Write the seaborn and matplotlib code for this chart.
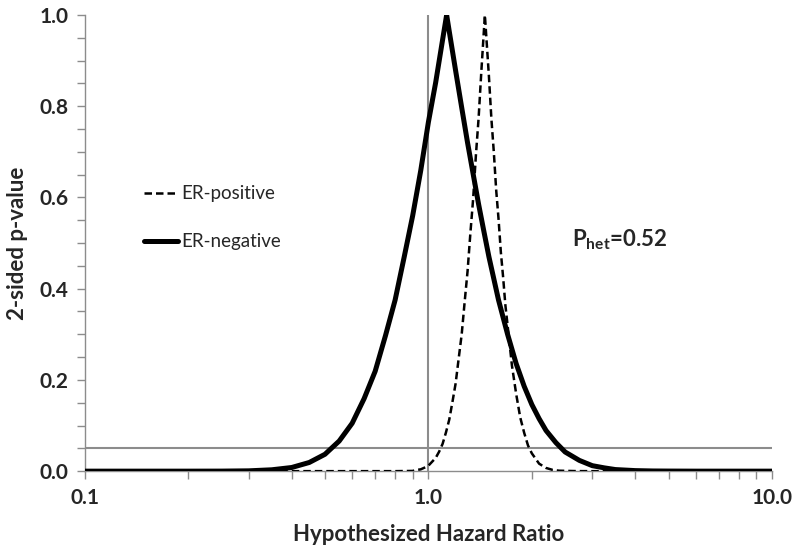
import numpy as np
import pandas as pd
import matplotlib
matplotlib.use("Agg")
import matplotlib.pyplot as plt
from matplotlib.ticker import MultipleLocator, FixedLocator, NullFormatter, FixedFormatter
import seaborn as sns

# Valores (HR hipotético vs p-valor bilateral)
hr_neg = [0.1, 0.2, 0.25, 0.3, 0.35, 0.4, 0.45, 0.5, 0.55, 0.6, 0.65, 0.7, 0.75, 0.8,
          0.85, 0.9, 0.95, 1.0, 1.05, 1.1, 1.13, 1.15, 1.2, 1.25, 1.3, 1.35, 1.4, 1.45,
          1.5, 1.6, 1.7, 1.8, 1.9, 2.0, 2.1, 2.2, 2.35, 2.5, 2.75, 3.0, 3.25, 3.5, 4.0,
          4.5, 5.0, 6.0, 8.0, 10.0]
p_neg = [0.0, 0.0, 0.0001, 0.0007, 0.003, 0.008, 0.019, 0.037, 0.066, 0.105, 0.159,
         0.219, 0.297, 0.375, 0.469, 0.56, 0.659, 0.765, 0.852, 0.946, 1.0, 0.964,
         0.878, 0.797, 0.72, 0.651, 0.585, 0.526, 0.47, 0.375, 0.30, 0.236, 0.186,
         0.146, 0.115, 0.089, 0.0625, 0.042, 0.0236, 0.012, 0.0072, 0.0035, 0.0012,
         0.0004, 0.0002, 0.0, 0.0, 0.0]

hr_pos = [0.1, 0.5, 0.8, 0.9, 0.92, 0.95, 0.98, 1.0, 1.05, 1.075, 1.1, 1.125, 1.15,
          1.175, 1.2, 1.225, 1.25, 1.275, 1.3, 1.325, 1.35, 1.375, 1.4, 1.425, 1.46,
          1.5, 1.525, 1.55, 1.575, 1.6, 1.625, 1.65, 1.675, 1.7, 1.75, 1.8, 1.85, 1.9,
          1.95, 2.0, 2.1, 2.2, 2.3, 2.4, 2.7, 3.0, 5.0, 10.0]
p_pos = [0.0, 0.0, 0.0, 0.0005, 0.0023, 0.004, 0.0085, 0.012, 0.029, 0.043, 0.060,
         0.085, 0.113, 0.152, 0.192, 0.247, 0.300, 0.371, 0.438, 0.522, 0.598, 0.693,
         0.774, 0.873, 1.0, 0.866, 0.773, 0.700, 0.616, 0.553, 0.480, 0.425, 0.364,
         0.320, 0.232, 0.170, 0.118, 0.084, 0.056, 0.039, 0.0164, 0.007, 0.0027,
         0.001, 0.0001, 0.0, 0.0, 0.0]

x_ticks = [0.1, 1.0, 10.0]
x_tick_labels = ["0.1", "1.0", "10.0"]
p_het = "0.52"

df = pd.concat([
    pd.DataFrame({"HR": hr_pos, "p": p_pos, "grupo": "ER-positive"}),
    pd.DataFrame({"HR": hr_neg, "p": p_neg, "grupo": "ER-negative"}),
])

sns.set_style("white")
plt.rcParams["font.family"] = ["Lato", "DejaVu Sans"]
plt.rcParams["mathtext.fontset"] = "custom"
plt.rcParams["mathtext.rm"] = "Lato"
plt.rcParams["mathtext.bf"] = "Lato:bold"

fig = plt.figure(figsize=(8, 5.53), dpi=100)
ax = fig.add_axes([0.106, 0.148, 0.859, 0.825])

grey = "#8c8c8c"
# líneas de referencia
ax.axhline(0.05, color=grey, lw=1.5, zorder=1)
ax.plot([1.0, 1.0], [0, 1.0], color=grey, lw=1.5, zorder=1)

sns.lineplot(data=df[df["grupo"] == "ER-positive"], x="HR", y="p", color="black",
             lw=1.8, ax=ax, label="ER-positive", zorder=3)
sns.lineplot(data=df[df["grupo"] == "ER-negative"], x="HR", y="p", color="black",
             lw=3.6, ax=ax, label="ER-negative", zorder=4)
ax.lines[-2].set_linestyle((0, (3, 1.6)))

ax.set_xscale("log")
ax.set_xlim(0.1, 10)
ax.set_ylim(0, 1.0)
ax.xaxis.set_major_locator(FixedLocator(x_ticks))
ax.xaxis.set_major_formatter(FixedFormatter(x_tick_labels))
ax.xaxis.set_minor_locator(FixedLocator([m * d for d in (0.1, 1.0) for m in range(2, 10)]))
ax.xaxis.set_minor_formatter(NullFormatter())
ax.yaxis.set_major_locator(MultipleLocator(0.2))
ax.yaxis.set_minor_locator(MultipleLocator(0.05))
ax.yaxis.set_major_formatter(matplotlib.ticker.FormatStrFormatter("%.1f"))

for s in ["top", "right"]:
    ax.spines[s].set_visible(False)
for s in ["left", "bottom"]:
    ax.spines[s].set_color(grey)
    ax.spines[s].set_linewidth(1.0)

ax.tick_params(axis="both", which="both", direction="out", color=grey, width=1,
               length=6, left=True, bottom=True, labelsize=15, pad=6)
for lab in ax.get_xticklabels() + ax.get_yticklabels():
    lab.set_fontweight("bold")

ax.set_xlabel("Hypothesized Hazard Ratio", fontsize=16, fontweight="bold", labelpad=12)
ax.set_ylabel("2-sided p-value", fontsize=16, fontweight="bold", labelpad=8)

leg = ax.legend(loc="center left", bbox_to_anchor=(0.062, 0.555), frameon=False,
                fontsize=13.5, handlelength=1.8, handletextpad=0.15, labelspacing=1.65)

ax.text(2.62, 0.508, r"$\mathbf{P_{het}}$=" + p_het, fontsize=16,
        fontweight="bold", va="center", ha="left")

fig.savefig("out.png", dpi=100)
